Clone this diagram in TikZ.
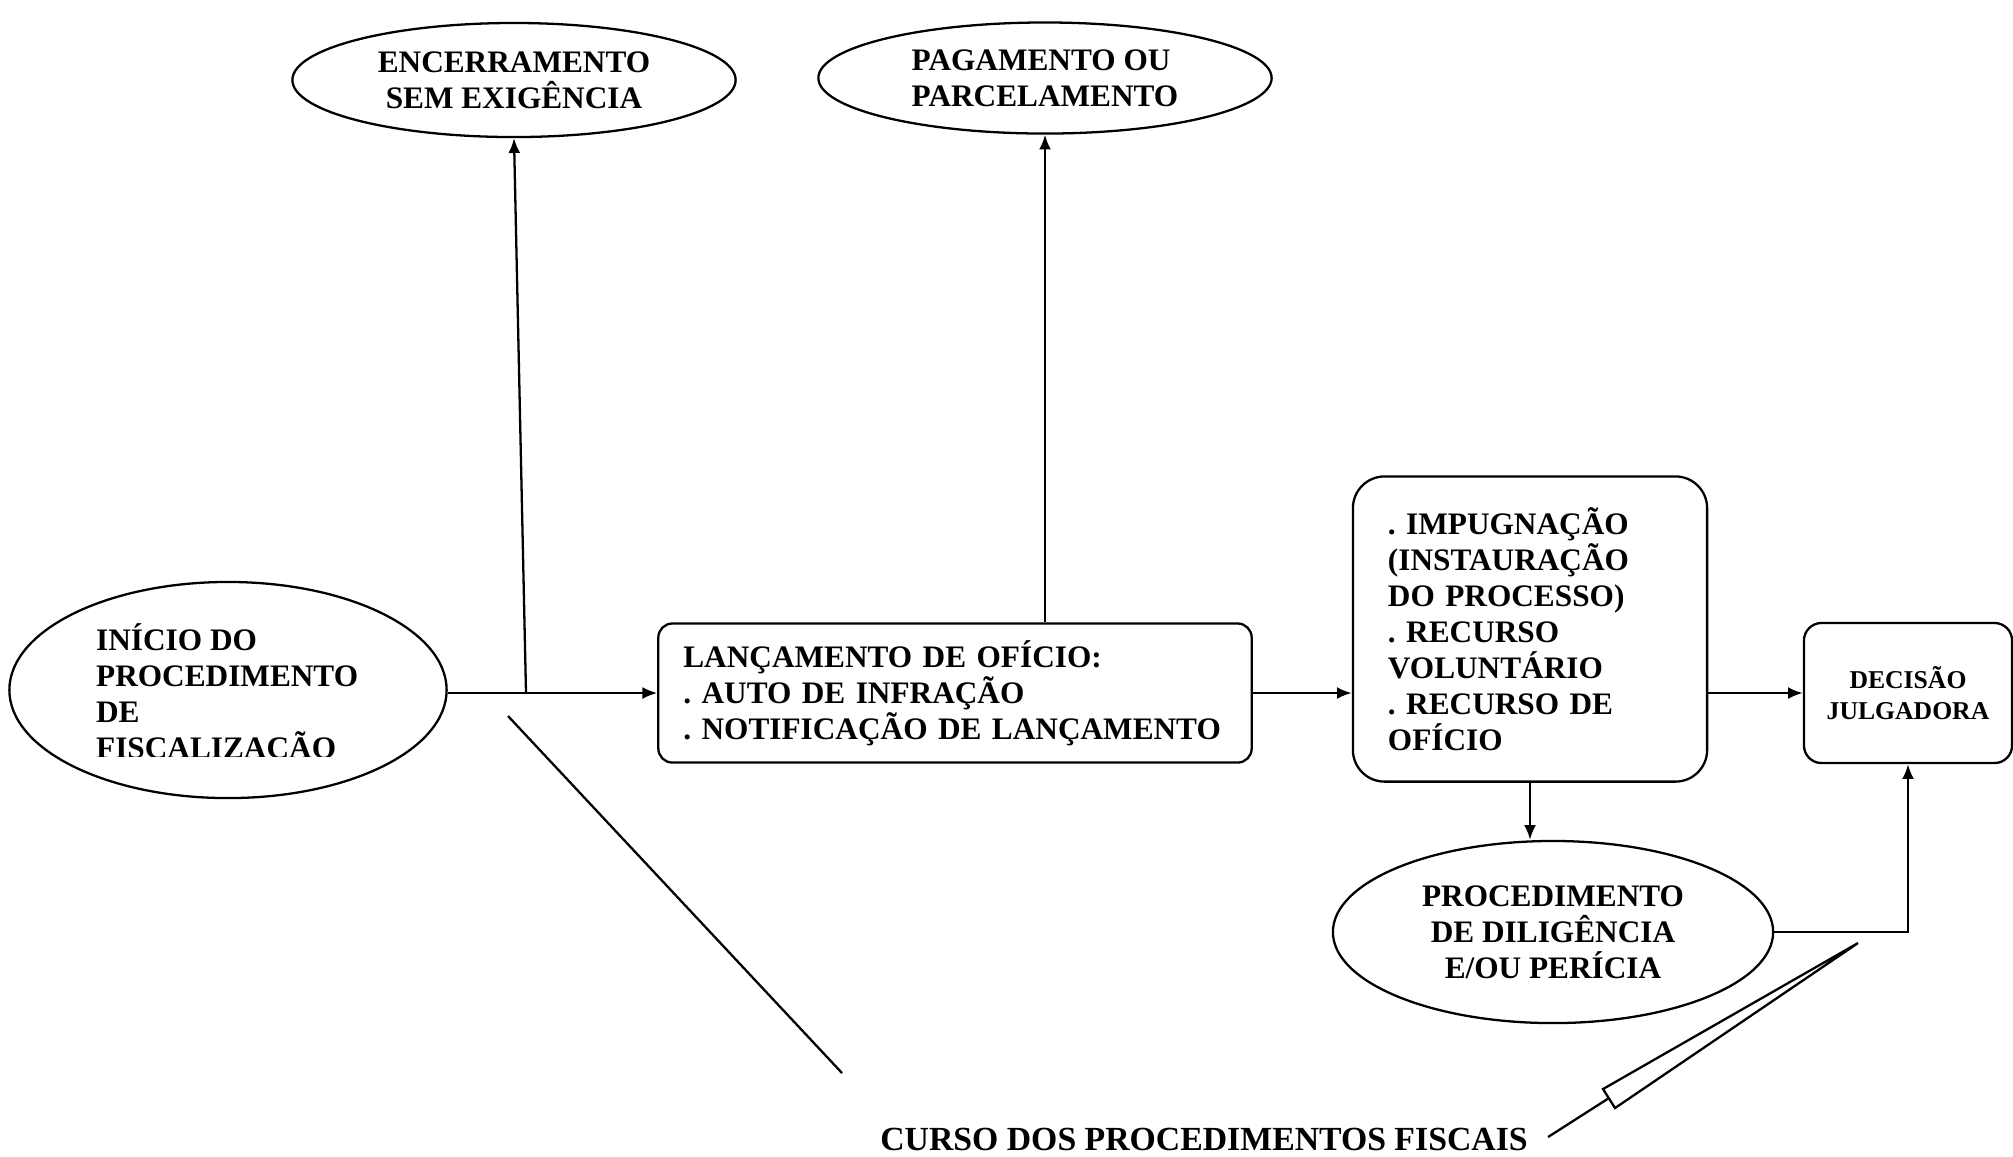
\documentclass[tikz,border=0pt]{standalone}
\usepackage{fontspec}
\setmainfont{Liberation Serif}
\usepackage{tikz}
\usetikzlibrary{arrows,arrows.meta,positioning,calc,shapes.geometric}
\frenchspacing
\tikzstyle{oval}=[draw,ellipse,inner sep=0pt,align=center,font=\bfseries\fontsize{8.9}{10.24}\selectfont]
\tikzstyle{etapa}=[draw,rectangle,rounded corners=4pt,inner ysep=0pt,align=left,font=\bfseries\fontsize{8.9}{10.24}\selectfont]
\tikzstyle{rotulo}=[inner sep=0pt,align=left,font=\bfseries\fontsize{8.9}{10.24}\selectfont]
\tikzstyle{seta}=[-{Latex[length=4.2pt,width=3.4pt]}]

\begin{document}
\begin{tikzpicture}[x=0.01cm,y=-0.01cm,line width=0.65pt]
    \useasboundingbox (0,0) rectangle (2013,1156);
    \node [oval,minimum width=4.43cm,minimum height=1.14cm] (encer) at (514,80) {ENCERRAMENTO\\SEM EXIGÊNCIA};
    \node [oval,align=left,minimum width=4.53cm,minimum height=1.11cm] (pag) at (1045,78) {PAGAMENTO OU\\PARCELAMENTO};
    \node [oval,minimum width=4.37cm,minimum height=2.16cm] (inicio) at (228,690) {};
    \begin{scope}
      \clip (0,0) rectangle (2013,756);
      \node [rotulo,anchor=west] (iniciotxt) at (95,694) {INÍCIO DO\\PROCEDIMENTO\\DE\\FISCALIZAÇÃO};
    \end{scope}
    \node [etapa,text width=5.43cm,inner xsep=0.25cm,minimum height=1.39cm] (lanc) at (955,693)
      {LANÇAMENTO DE OFÍCIO:\\. AUTO DE INFRAÇÃO\\. NOTIFICAÇÃO DE LANÇAMENTO};
    \node [etapa,rounded corners=9pt,text width=2.84cm,inner xsep=0.35cm,minimum height=3.05cm] (impug) at (1530,629)
      {. IMPUGNAÇÃO\\(INSTAURAÇÃO\\DO PROCESSO)\\. RECURSO\\VOLUNTÁRIO\\. RECURSO DE\\OFÍCIO};
    \node [etapa,rounded corners=5pt,align=center,minimum width=2.08cm,minimum height=1.40cm,
      font=\bfseries\fontsize{7.3}{8.8}\selectfont] (dec) at (1908,693) {DECISÃO\\JULGADORA};
    \node [oval,minimum width=4.40cm,minimum height=1.82cm] (proc) at (1553,932) {PROCEDIMENTO\\DE DILIGÊNCIA\\E/OU PERÍCIA};
    \node [rotulo,font=\bfseries\fontsize{9.6}{11}\selectfont] (curso) at (1204,1139) {CURSO DOS PROCEDIMENTOS FISCAIS};

    \coordinate (ramo) at (526,693);
    \draw [seta] (inicio.east |- lanc.west) -- (lanc.west);
    \draw [seta] (ramo) -- (encer.south);
    \draw [seta] (pag.south |- lanc.north) -- (pag.south);
    \draw [seta] (lanc.east) -- (lanc.east -| impug.west);
    \draw [seta] (lanc.east -| impug.east) -- (dec.west);
    \draw [seta] (impug.south) -- (impug.south |- proc.north);
    \draw [seta] (proc.east) -- (proc.east -| dec.south) -- (dec.south);

    \coordinate (d1) at (508,716);
    \coordinate (d2) at (842,1073);
    \draw (d1) -- (d2);
    \coordinate (c1) at (1548,1137);
    \coordinate (c2) at (1609,1098);
    \coordinate (c3) at (1603,1089);
    \coordinate (c4) at (1615,1108);
    \coordinate (c5) at (1858,943);
    \draw (c1) -- (c2);
    \draw (c3) -- (c4) -- (c5) -- cycle;
\end{tikzpicture}
\end{document}
